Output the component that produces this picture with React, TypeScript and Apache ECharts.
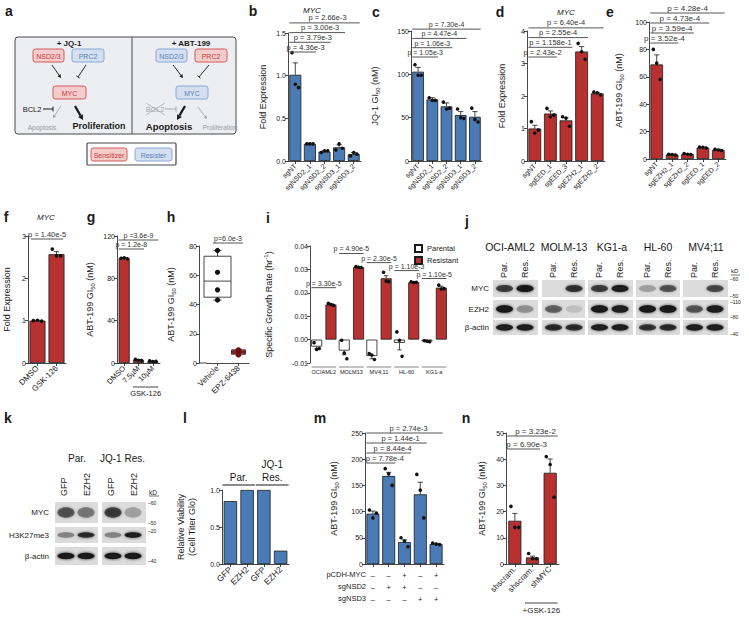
import React, { useEffect, useRef } from "react";
import * as echarts from "echarts";

const FONT = "'Liberation Sans', Arial, Helvetica, sans-serif";
const BLUE = "#4b7bb5";
const RED = "#b73131";
const INK = "#1a1a1a";

// ---------- DATA ----------
const bCats = ["sgNT", "sgNSD2_1", "sgNSD2_2", "sgNSD3_1", "sgNSD3_2"];
const bMeans = [1.01, 0.2, 0.11, 0.16, 0.08];
const bErr = [0.14, 0.01, 0.01, 0.03, 0.02];
const bDots = [[1.27, 0.9, 0.86], [0.2, 0.2, 0.2], [0.1, 0.12, 0.12], [0.13, 0.2, 0.15], [0.06, 0.1, 0.08]];
const bP = ["p = 4.36e-3", "p = 3.79e-3", "p = 3.00e-3", "p = 2.66e-3"];

const cCats = ["sgNT", "sgNSD2_1", "sgNSD2_2", "sgNSD3_1", "sgNSD3_2"];
const cMeans = [103, 71, 63, 53, 51];
const cErr = [5, 2, 4, 4, 6];
const cDots = [[111, 99, 99], [73, 70, 70], [68, 60, 61], [60, 50, 49], [61, 48, 45]];
const cP = ["p = 1.05e-3", "p = 1.06e-3", "p = 4.47e-4", "p = 7.30e-4"];

const dCats = ["sgNT", "sgEED_1", "sgEED_3", "sgEZH2_1", "sgEZH2_2"];
const dMeans = [1.0, 1.46, 1.25, 3.37, 2.08];
const dErr = [0.1, 0.08, 0.08, 0.15, 0.03];
const dDots = [[1.21, 0.86, 0.95], [1.62, 1.36, 1.41], [1.36, 1.32, 1.07], [3.62, 3.36, 3.13], [2.12, 2.1, 2.03]];
const dP = ["p = 2.43e-2", "p = 1.158e-1", "p = 2.55e-4", "p = 6.40e-4"];

const eCats = ["sgNT", "sgEZH2_1", "sgEZH2_2", "sgEED_1", "sgEED_2"];
const eMeans = [69, 3.2, 3.6, 8.3, 6.6];
const eErr = [7, 0.4, 0.4, 0.4, 0.5];
const eDots = [[80, 70, 58], [3.5, 3.3, 2.8], [4, 3.5, 3.3], [8.8, 8.5, 8], [7, 6.6, 6.2]];
const eP = ["p = 3.52e-4", "p = 3.59e-4", "p = 4.73e-4", "p = 4.28e-4"];

const fCats = ["DMSO", "GSK-126"];
const fMeans = [1.0, 2.57];
const fErr = [0.01, 0.06];
const fDots = [[1.0, 1.01, 0.99], [2.69, 2.53, 2.53]];
const fP = ["p = 1.40e-5"];

const gCats = ["DMSO", "7.5µM", "10µM"];
const gMeans = [99, 2.8, 1.6];
const gErr = [0.5, 0.4, 0.3];
const gDots = [[99, 99.5, 98.5], [3.4, 2.6, 2.4], [2, 1.4, 1.5]];
const gP = ["p = 1.2e-8", "p =3.6e-9"];

const hCats = ["Vehicle", "EPZ-6438"];
const hBox = [[43, 45, 56, 73, 77], [5, 6, 7.5, 9, 9.5]];
const hDots = [[77, 62, 50, 43], [9, 8, 6, 5.5]];
const hP = ["p=6.0e-3"];

const iCats = ["OCIAML2", "MOLM13", "MV4;11", "HL-60", "KG1-a"];
const iParMeans = [-0.003, -0.0047, -0.007, -0.0014, -0.0007];
const iParErr = [0.0009, 0.0018, 0.0012, 0.003, 0.0001];
const iParDots = [[-0.0013, -0.0042, -0.0038], [-0.0003, -0.0057, -0.0082], [-0.006, -0.0066, -0.0085], [0.0033, -0.0003, -0.0071], [-0.0005, -0.0007, -0.0009]];
const iResMeans = [0.015, 0.031, 0.0262, 0.0245, 0.0222];
const iResErr = [0.0003, 0.0002, 0.0011, 0.0002, 0.0006];
const iResDots = [[0.0155, 0.015, 0.0146], [0.0312, 0.0309, 0.0308], [0.0288, 0.025, 0.0248], [0.0247, 0.0244, 0.0245], [0.0233, 0.0216, 0.0218]];
const iP = ["p = 3.30e-5", "p = 4.90e-5", "p = 2.30e-5", "p = 1.10e-3", "p = 1.10e-5"];
const iBracketY = [0.0222, 0.0368, 0.0329, 0.0295, 0.0261];

const lCats = ["GFP", "EZH2", "GFP", "EZH2"];
const lVals = [0.85, 1.0, 1.0, 0.18];
const lGroups = ["Par.", "JQ-1\nRes."];

const mMeans = [96, 168, 42, 133, 38];
const mErr = [5, 7, 4, 23, 1.5];
const mDots = [[103, 88, 97], [182, 172, 150], [50, 44, 33], [171, 141, 88], [40, 38, 37]];
const mP = ["p = 7.78e-4", "p = 8.44e-4", "p = 1.44e-1", "p = 2.74e-3"];
const mRows = ["pCDH-MYC", "sgNSD2", "sgNSD3"];
const mSigns = [["–", "–", "+", "–", "+"], ["–", "+", "+", "–", "–"], ["–", "–", "–", "+", "+"]];

const nCats = ["shscram.", "shscram.", "shMYC"];
const nMeans = [16.5, 2.5, 34.8];
const nErr = [2.8, 0.5, 5.3];
const nDots = [[22, 14, 14], [4, 2, 2], [41, 38, 25.5]];
const nP = ["p = 6.90e-3", "p = 3.23e-2"];

const jLines = ["OCI-AML2", "MOLM-13", "KG1-a", "HL-60", "MV4;11"];
const jRows = ["MYC", "EZH2", "β-actin"];
const jMYC = [[0.7, 1.0], [0.0, 0.75], [0.7, 0.9], [0.25, 0.6], [0.0, 0.65]];
const jEZH2 = [[0.95, 0.35], [0.55, 0.12], [0.95, 0.9], [0.95, 1.0], [0.6, 0.9]];
const jActin = [[0.9, 0.9], [0.8, 0.8], [0.9, 0.9], [0.75, 0.8], [0.9, 0.9]];
const jKD = ["–60", "–50", "–110", "–80", "–40"];

const kGroups = ["Par.", "JQ-1 Res."];
const kLanes = ["GFP", "EZH2"];
const kRows = ["MYC", "H3K27me3", "β-actin"];
const kMYC = [[0.6, 0.45], [0.7, 0.25]];
const kH3 = [[0.4, 0.8], [0.4, 0.9]];
const kActin = [[0.95, 0.95], [0.95, 0.95]];
const kKD = ["–60", "–50", "–20", "–40"];

// ---------- helpers ----------
const lineSt = { color: INK, width: 0.8 };

function T(x: number, y: number, text: string, o: any = {}) {
  return {
    type: "text", x, y, rotation: o.rot || 0, silent: true, z: o.z || 10,
    style: {
      text, fill: o.fill || INK, fontSize: o.size || 8, fontFamily: FONT,
      fontWeight: o.bold ? "bold" : "normal", fontStyle: o.italic ? "italic" : "normal",
      align: o.align || "center", verticalAlign: o.va || "middle", lineHeight: o.lh,
    },
  };
}
function L(x1: number, y1: number, x2: number, y2: number, stroke = INK, lw = 1) {
  return { type: "line", silent: true, z: 10, shape: { x1, y1, x2, y2 }, style: { stroke, lineWidth: lw } };
}
function node(x: number, y: number, w: number, h: number, label: string, kind: string) {
  const c = kind === "r"
    ? { fill: "#f4cccc", stroke: "#d25a5a", text: "#c83a3a" }
    : { fill: "#d4dff0", stroke: "#86a8d8", text: "#5a80bb" };
  return [
    { type: "rect", z: 9, silent: true, shape: { x, y, width: w, height: h, r: 2.5 }, style: { fill: c.fill, stroke: c.stroke, lineWidth: 1 } },
    T(x + w / 2, y + h / 2 + 0.5, label, { size: 7, fill: c.text }),
  ];
}
function arrow(x1: number, y1: number, x2: number, y2: number, color: string, lw: number, head: number) {
  const ang = Math.atan2(y2 - y1, x2 - x1);
  const bx = x2 - head * Math.cos(ang), by = y2 - head * Math.sin(ang);
  const px = -Math.sin(ang) * head * 0.55, py = Math.cos(ang) * head * 0.55;
  return [
    L(x1, y1, bx, by, color, lw),
    { type: "polygon", z: 10, silent: true, shape: { points: [[x2, y2], [bx + px, by + py], [bx - px, by - py]] }, style: { fill: color } },
  ];
}
function inhibit(x1: number, y1: number, x2: number, y2: number, color: string, lw: number, bar: number) {
  const ang = Math.atan2(y2 - y1, x2 - x1);
  const px = -Math.sin(ang) * bar / 2, py = Math.cos(ang) * bar / 2;
  return [L(x1, y1, x2, y2, color, lw), L(x2 + px, y2 + py, x2 - px, y2 - py, color, lw)];
}
function band(cx: number, cy: number, w: number, h: number, a: number) {
  if (a <= 0.02) return null;
  const col = `rgba(18,18,18,${Math.min(1, a * 0.95)})`;
  return {
    type: "ellipse", z: 10, silent: true, shape: { cx, cy, rx: w / 2, ry: h / 2 },
    style: { fill: col, shadowBlur: 3, shadowColor: col },
  };
}

function buildOption() {
  const grid: any[] = [], xAxis: any[] = [], yAxis: any[] = [], series: any[] = [];

  function addPanel(p: any) {
    const gi = grid.length;
    grid.push({ left: p.left, top: p.top, width: p.width, height: p.height });
    xAxis.push({
      gridIndex: gi, type: "category", data: p.cats,
      axisLine: { show: p.xLine !== false, onZero: false, lineStyle: lineSt },
      axisTick: { show: p.xTick !== false, alignWithLabel: true, length: 3, lineStyle: lineSt },
      axisLabel: Object.assign(
        { show: p.showX !== false, interval: 0, rotate: p.rotate == null ? 45 : p.rotate, fontSize: p.xSize || 7, color: INK, margin: 4, fontFamily: FONT },
        p.xLabel || {}
      ),
    });
    yAxis.push({
      gridIndex: gi, type: "value", min: p.min, max: p.max, interval: p.interval, offset: p.yOffset || 0,
      name: p.yName, nameLocation: "middle", nameGap: p.nameGap,
      nameTextStyle: {
        fontSize: 9, color: INK, fontFamily: FONT, lineHeight: 11,
        rich: {
          n: { fontSize: 9, lineHeight: 12, color: INK, fontFamily: FONT },
          s: { fontSize: 6, lineHeight: 6, verticalAlign: "bottom", color: INK, fontFamily: FONT },
          p: { fontSize: 6, lineHeight: 6, verticalAlign: "top", color: INK, fontFamily: FONT },
        },
      },
      axisLine: { show: true, lineStyle: lineSt },
      axisTick: { show: true, length: 3, lineStyle: lineSt },
      splitLine: { show: false },
      axisLabel: { fontSize: 7, color: INK, margin: 2, fontFamily: FONT, formatter: p.fmt },
    });
    return gi;
  }

  function bar(gi: number, data: number[], color: string, width: any, name?: string) {
    return {
      type: "bar", name, xAxisIndex: gi, yAxisIndex: gi, data, barWidth: width, silent: true,
      itemStyle: { color, borderColor: INK, borderWidth: 0.8 },
    };
  }
  function err(gi: number, means: number[], errs: number[], dx = 0, cap = 2.6) {
    return {
      type: "custom", xAxisIndex: gi, yAxisIndex: gi, silent: true, z: 4,
      data: means.map((m, i) => [i, m, errs[i]]), encode: { x: 0, y: 1 },
      renderItem: (params: any, api: any) => {
        const i = api.value(0), m = api.value(1), e = api.value(2);
        const s = m < 0 ? -1 : 1;
        const p1 = api.coord([i, m]);
        const p2 = api.coord([i, m + s * e]);
        const x = p1[0] + dx;
        return {
          type: "group", children: [
            { type: "line", shape: { x1: x, y1: p1[1], x2: x, y2: p2[1] }, style: { stroke: INK, lineWidth: 0.8 } },
            { type: "line", shape: { x1: x - cap, y1: p2[1], x2: x + cap, y2: p2[1] }, style: { stroke: INK, lineWidth: 0.8 } },
          ],
        };
      },
    };
  }
  function dots(gi: number, arr: number[][], o: any = {}) {
    const data: any[] = [];
    arr.forEach((vals, i) => vals.forEach((v, k) => data.push([i, v, k, vals.length])));
    return {
      type: "custom", xAxisIndex: gi, yAxisIndex: gi, silent: true, z: 5,
      data, encode: { x: 0, y: 1 },
      renderItem: (params: any, api: any) => {
        const i = api.value(0), v = api.value(1), k = api.value(2), n = api.value(3);
        const bw = api.size([1, 0])[0];
        const spread = o.spread == null ? bw * 0.22 : o.spread;
        const p = api.coord([i, v]);
        const col = o.colors ? o.colors[i] : "#111";
        return {
          type: "circle", shape: { cx: p[0] + (o.dx || 0) + (k - (n - 1) / 2) * spread, cy: p[1], r: o.r || 1.8 },
          style: { fill: col },
        };
      },
    };
  }
  function brackets(gi: number, pairs: number[][], labels: string[], cfg: any) {
    return {
      type: "custom", xAxisIndex: gi, yAxisIndex: gi, silent: true, z: 6,
      data: pairs.map((p) => [p[0], cfg.yMin, p[1], p[2]]), encode: { x: 0, y: 1 },
      renderItem: (params: any, api: any) => {
        const a = api.value(0), b = api.value(2), lvl = api.value(3);
        const bw = api.size([1, 0])[0];
        const half = cfg.half != null ? cfg.half : (bw * (cfg.frac || 0.82)) / 2;
        const xa = api.coord([a, cfg.yMin])[0] - half;
        const xb = api.coord([b, cfg.yMin])[0] + half;
        let y: number;
        if (cfg.valueY) y = api.coord([0, cfg.valueY[params.dataIndex]])[1];
        else {
          const ref = cfg.anchor === "bottom" ? api.coord([0, cfg.yMin])[1] : api.coord([0, cfg.yMax])[1];
          y = ref + cfg.base - lvl * (cfg.step || 0);
        }
        return {
          type: "group", children: [
            { type: "line", shape: { x1: xa, y1: y, x2: xb, y2: y }, style: { stroke: cfg.lineColor || "#555", lineWidth: cfg.lw || 1 } },
            {
              type: "text", x: (xa + xb) / 2 + (cfg.textDx || 0), y: y + (cfg.textDy != null ? cfg.textDy : -1),
              style: {
                text: labels[params.dataIndex], fill: cfg.textColor || "#333", fontSize: cfg.fontSize || 7.5,
                fontFamily: FONT, align: "center", verticalAlign: cfg.va || "bottom", lineHeight: cfg.lineHeight,
              },
            },
          ],
        };
      },
    };
  }
  const fromFirst = (n: number) => Array.from({ length: n }, (_, k) => [0, k + 1, k]);

  // ---- b ----
  const gb = addPanel({ left: 288, top: 33, width: 73, height: 128, cats: bCats, min: 0, max: 1.5, interval: 0.5, fmt: (v: number) => v.toFixed(1), yName: "Fold Expression", nameGap: 20 });
  series.push(bar(gb, bMeans, BLUE, "82%"), err(gb, bMeans, bErr), dots(gb, bDots),
    brackets(gb, fromFirst(4), bP, { anchor: "top", base: 19, step: 9.7, yMin: 0, yMax: 1.5, textDx: 3 }));
  // ---- c ----
  const gc = addPanel({ left: 411, top: 31, width: 71, height: 130, cats: cCats, min: 0, max: 150, interval: 50, yName: "{n|JQ-1 GI}{s|50}{n| (nM)}", nameGap: 30 });
  series.push(bar(gc, cMeans, BLUE, "82%"), err(gc, cMeans, cErr), dots(gc, cDots),
    brackets(gc, fromFirst(4), cP, { anchor: "top", base: 26, step: 9.3, yMin: 0, yMax: 150, fontSize: 7 }));
  // ---- d ----
  const gd = addPanel({ left: 527, top: 31, width: 78, height: 130, cats: dCats, min: 0, max: 4, interval: 1, yName: "Fold Expression", nameGap: 20 });
  series.push(bar(gd, dMeans, RED, "82%"), err(gd, dMeans, dErr), dots(gd, dDots),
    brackets(gd, fromFirst(4), dP, { anchor: "top", base: 26, step: 9.7, yMin: 0, yMax: 4 }));
  // ---- e ----
  const ge = addPanel({ left: 649, top: 22, width: 77, height: 137, cats: eCats, min: 0, max: 100, interval: 20, yName: "{n|ABT-199 GI}{s|50}{n| (nM)}", nameGap: 24 });
  series.push(bar(ge, eMeans, RED, "82%"), err(ge, eMeans, eErr), dots(ge, eDots),
    brackets(ge, fromFirst(4), eP, { anchor: "top", base: 21, step: 10, yMin: 0, yMax: 100, fontSize: 8 }));
  // ---- f ----
  const gf = addPanel({ left: 28, top: 236, width: 38, height: 127, cats: fCats, min: 0, max: 3, interval: 1, yName: "Fold Expression", nameGap: 16, xSize: 8 });
  series.push(bar(gf, fMeans, RED, "84%"), err(gf, fMeans, fErr), dots(gf, fDots),
    brackets(gf, [[0, 1, 0]], fP, { anchor: "top", base: 3, yMin: 0, yMax: 3, frac: 0.7 }));
  // ---- g ----
  const gg = addPanel({ left: 117, top: 236, width: 43, height: 127, cats: gCats, min: 0, max: 120, interval: 40, yName: "{n|ABT-199 GI}{s|50}{n| (nM)}", nameGap: 21, xSize: 7.5 });
  series.push(bar(gg, gMeans, RED, "77%"), err(gg, gMeans, gErr), dots(gg, gDots),
    brackets(gg, [[0, 1, 0], [0, 2, 1]], gP, { anchor: "top", base: 13, step: 9, yMin: 0, yMax: 120, frac: 0.77, fontSize: 7 }),
    brackets(gg, [[1, 2, 0]], ["GSK-126"], { anchor: "bottom", base: 24, yMin: 0, yMax: 120, frac: 0.77, va: "top", textDy: 2, fontSize: 7.5, textColor: INK, lineColor: INK, lw: 0.8 }));
  // ---- h ----
  const gh = addPanel({ left: 207, top: 246, width: 42, height: 117, yOffset: 8, cats: hCats, min: 0, max: 80, interval: 20, yName: "{n|ABT-199 GI}{s|50}{n| (nM)}", nameGap: 22, xSize: 8 });
  series.push({
    type: "custom", xAxisIndex: gh, yAxisIndex: gh, silent: true, z: 3,
    data: hBox.map((b, i) => [i, ...b]), encode: { x: 0, y: [1, 2, 3, 4, 5] },
    renderItem: (params: any, api: any) => {
      const i = api.value(0);
      const v = [1, 2, 3, 4, 5].map((d) => api.value(d));
      const cx = api.coord([i, v[2]])[0];
      const yy = (val: number) => api.coord([i, val])[1];
      const w = [27, 14][i], cap = [4, 3][i], fill = ["#fff", RED][i];
      const ls = { stroke: INK, lineWidth: 0.8 };
      return {
        type: "group", children: [
          { type: "line", shape: { x1: cx, y1: yy(v[0]), x2: cx, y2: yy(v[1]) }, style: ls },
          { type: "line", shape: { x1: cx, y1: yy(v[3]), x2: cx, y2: yy(v[4]) }, style: ls },
          { type: "line", shape: { x1: cx - cap, y1: yy(v[0]), x2: cx + cap, y2: yy(v[0]) }, style: ls },
          { type: "line", shape: { x1: cx - cap, y1: yy(v[4]), x2: cx + cap, y2: yy(v[4]) }, style: ls },
          { type: "rect", shape: { x: cx - w / 2, y: yy(v[3]), width: w, height: yy(v[1]) - yy(v[3]) }, style: { fill, stroke: INK, lineWidth: 0.8 } },
          { type: "line", shape: { x1: cx - w / 2, y1: yy(v[2]), x2: cx + w / 2, y2: yy(v[2]) }, style: ls },
        ],
      };
    },
  });
  series.push(dots(gh, hDots, { spread: 0, r: 2.6, colors: ["#111", "#6e0f0f"] }),
    brackets(gh, [[0, 1, 0]], hP, { anchor: "top", base: -3, yMin: 0, yMax: 80, half: 4.5, fontSize: 7 }));
  // ---- i ----
  const gi = addPanel({
    left: 310, top: 246, width: 138, height: 117, cats: iCats, min: -0.01, max: 0.04, interval: 0.01,
    fmt: (v: number) => v.toFixed(2), yName: "{n|Specific Growth Rate (hr}{p|-1}{n|)}", nameGap: 35,
    rotate: 0, xLine: false, xTick: false, xSize: 5.6, xLabel: { margin: 6 },
  });
  series.push(
    { ...bar(gi, iParMeans, "#fff", 11, "Parental"), barGap: "30%" },
    { ...bar(gi, iResMeans, RED, 11, "Resistant"), barGap: "30%" },
    err(gi, iParMeans, iParErr, -7.15, 2.2), err(gi, iResMeans, iResErr, 7.15, 2.2),
    dots(gi, iParDots, { dx: -7.15, spread: 2.6 }), dots(gi, iResDots, { dx: 7.15, spread: 2.6 }),
    brackets(gi, iCats.map((_, k) => [k, k, 0]), iP, { valueY: iBracketY, yMin: -0.01, yMax: 0.04, half: 12.3, fontSize: 7 }),
    brackets(gi, iCats.map((_, k) => [k, k, 0]), iCats.map(() => ""), { anchor: "bottom", base: 4, yMin: -0.01, yMax: 0.04, half: 12.3, lineColor: "#666", lw: 0.8 })
  );
  // ---- l ----
  const gl = addPanel({ left: 222, top: 490, width: 67, height: 74, cats: lCats, min: 0, max: 1, interval: 0.5, fmt: (v: number) => v.toFixed(1), yName: "Relative Viability\n(Cell Titer Glo)", nameGap: 25, xSize: 8.5 });
  series.push(bar(gl, lVals, BLUE, "80%"),
    brackets(gl, [[0, 1, 0], [2, 3, 0]], lGroups, { anchor: "top", base: -5, yMin: 0, yMax: 1, frac: 0.95, fontSize: 10, textColor: INK, lineColor: INK, lw: 1, textDy: -1, lineHeight: 13 }));
  // ---- m ----
  const mCols = mMeans.map((_, i) => mSigns.map((r) => r[i]).join("\n"));
  const gm = addPanel({ left: 365, top: 433, width: 79, height: 131, cats: mCols, min: 0, max: 250, interval: 50, yName: "{n|ABT-199 GI}{s|50}{n| (nM)}", nameGap: 25, rotate: 0, xSize: 7.5, xLabel: { lineHeight: 12, margin: 5 } });
  series.push(bar(gm, mMeans, BLUE, "82%"), err(gm, mMeans, mErr), dots(gm, mDots),
    brackets(gm, fromFirst(4), mP, { anchor: "top", base: 30, step: 10, yMin: 0, yMax: 250, textDx: 4 }));
  // ---- n ----
  const gn = addPanel({ left: 506, top: 433, width: 53, height: 131, cats: nCats, min: 0, max: 50, interval: 10, yName: "{n|ABT-199 GI}{s|50}{n| (nM)}", nameGap: 18, xSize: 8 });
  series.push(bar(gn, nMeans, RED, "74%"), err(gn, nMeans, nErr), dots(gn, nDots),
    brackets(gn, [[0, 1, 0], [0, 2, 1]], nP, { anchor: "top", base: 16, step: 13, yMin: 0, yMax: 50, frac: 0.85, fontSize: 8, textDx: 3 }),
    brackets(gn, [[1, 2, 0]], ["+GSK-126"], { anchor: "bottom", base: 39, yMin: 0, yMax: 50, frac: 0.85, va: "top", textDy: 3, fontSize: 8, textColor: INK, lineColor: INK, lw: 0.8 }));

  // ---------- graphic ----------
  const els: any[] = [];
  // panel a
  els.push({ type: "rect", z: 8, silent: true, shape: { x: 15, y: 37, width: 221, height: 97, r: 3 }, style: { fill: "#eceef2", stroke: "#4a4a4a", lineWidth: 1 } });
  els.push(L(132, 37, 132, 134, "#4a4a4a", 1));
  els.push(T(69, 43.5, "+ JQ-1", { bold: true, size: 8 }), T(191, 43.5, "+ ABT-199", { bold: true, size: 8 }));
  els.push(...node(33, 49, 31, 13, "NSD2/3", "r"), ...node(72, 49, 32, 13, "PRC2", "b"), ...node(53, 86, 33, 13, "MYC", "r"));
  els.push(...arrow(52, 65, 61, 78, INK, 0.9, 3.5), ...inhibit(86, 65, 78, 77, INK, 0.9, 4));
  els.push(T(32, 109, "BCL2", { size: 7.5 }), ...inhibit(43, 109, 53, 109, INK, 1, 5));
  els.push(...arrow(61, 106, 53, 118, "#9a9a9a", 0.8, 3), T(42, 127, "Apoptosis", { size: 6.5, fill: "#9a9a9a" }));
  els.push(...arrow(75, 106, 83, 120, INK, 2.2, 5), T(99, 126, "Proliferation", { size: 9, bold: true }));
  els.push(...node(156, 49, 31, 13, "NSD2/3", "b"), ...node(195, 49, 32, 13, "PRC2", "r"), ...node(176, 86, 32, 13, "MYC", "b"));
  els.push(...arrow(173, 65, 183, 78, INK, 0.9, 3.5), ...inhibit(209, 65, 199, 77, INK, 0.9, 4));
  els.push(T(155, 109, "BCL2", { size: 7.5, fill: "#a8a8a8" }), ...inhibit(165, 109, 176, 109, "#a8a8a8", 1, 5));
  els.push(L(146, 103, 165, 115, "#a8a8a8", 0.8), L(146, 115, 165, 103, "#a8a8a8", 0.8));
  els.push(...arrow(185, 106, 177, 120, INK, 2.2, 5), T(169, 126, "Apoptosis", { size: 9.5, bold: true }));
  els.push(...arrow(198, 107, 207, 119, "#9a9a9a", 0.8, 3), T(220, 127, "Proliferation", { size: 6.5, fill: "#9a9a9a" }));
  els.push({ type: "rect", z: 8, silent: true, shape: { x: 87, y: 143, width: 89, height: 22, r: 1 }, style: { fill: "#fff", stroke: "#4a4a4a", lineWidth: 1.2 } });
  els.push(...node(91, 148, 36, 13, "Sensitizer", "r"), ...node(135, 148, 37, 13, "Resister", "b"));

  // panel letters
  const letters: [string, number, number][] = [["a", 9, 11], ["b", 253, 11], ["c", 376, 12], ["d", 500, 12], ["e", 610, 12], ["f", 6, 217], ["g", 91, 217], ["h", 171, 217], ["i", 268, 218], ["j", 467, 221], ["k", 8, 418], ["l", 185, 418], ["m", 320, 418], ["n", 466, 418]];
  letters.forEach(([s, x, y]) => els.push(T(x, y, s, { size: 14, bold: true })));
  els.push(T(312, 10, "MYC", { size: 8, italic: true }), T(566, 12, "MYC", { size: 8, italic: true }), T(46, 217, "MYC", { size: 8, italic: true }));

  // h: x-axis line continuation to the y axis
  els.push(L(199, 363, 207, 363, INK, 0.8));

  // panel j blots
  const jPX = [493, 542, 588, 636, 683], jPW = [45, 43, 45, 44, 45];
  const jRY = [280, 300, 320], jRH = [17, 18, 15];
  const jNameX = [510, 564, 612, 658, 706];
  const jData = [jMYC, jEZH2, jActin];
  jLines.forEach((nm, ci) => {
    els.push(T(jNameX[ci], 247, nm, { size: 10.5 }));
    ["Par.", "Res."].forEach((lab, li) => els.push(T(jPX[ci] + [11, 32][li], 278, lab, { size: 9, rot: Math.PI / 2, align: "left" })));
    jRY.forEach((ry, ri) => {
      els.push({ type: "rect", z: 9, silent: true, shape: { x: jPX[ci], y: ry, width: jPW[ci], height: jRH[ri] }, style: { fill: "#dcdcdc" } });
      [0, 1].forEach((li) => {
        const el = band(jPX[ci] + [11.5, 32][li], ry + jRH[ri] / 2, 17, jRH[ri] * 0.42, jData[ri][ci][li]);
        if (el) els.push(el);
      });
    });
  });
  jRows.forEach((r, ri) => els.push(T(489, jRY[ri] + jRH[ri] / 2, r, { size: 8, align: "right" })));
  els.push(T(731, 271, "kD", { size: 6, align: "left" }), L(731, 275, 740, 275, INK, 0.6));
  [279, 296, 302, 317, 334].forEach((y, k) => els.push(T(730, y, jKD[k], { size: 5, align: "left" })));

  // panel k blots
  const kPX = [55, 102], kPW = [43, 44], kRY = [502, 527, 547], kRH = [21, 16, 18];
  const kData = [kMYC, kH3, kActin];
  kGroups.forEach((g, gi2) => {
    els.push(T([77, 122.5][gi2], 458, g, { size: 10 }));
    kLanes.forEach((ln, li) => els.push(T(kPX[gi2] + [9, 32][li], 496, ln, { size: 9, rot: Math.PI / 2, align: "left" })));
    kRY.forEach((ry, ri) => {
      els.push({ type: "rect", z: 9, silent: true, shape: { x: kPX[gi2], y: ry, width: kPW[gi2], height: kRH[ri] }, style: { fill: "#dcdcdc" } });
      [0, 1].forEach((li) => {
        const el = band(kPX[gi2] + [11, 31][li], ry + kRH[ri] / 2, 17, kRH[ri] * (ri === 0 ? 0.5 : 0.35), kData[ri][gi2][li]);
        if (el) els.push(el);
      });
    });
  });
  kRows.forEach((r, ri) => els.push(T(49, kRY[ri] + kRH[ri] / 2, r, { size: 8, align: "right" })));
  els.push(T(149, 492, "kD", { size: 6.5, align: "left" }), L(149, 496, 159, 496, INK, 0.6));
  [503, 523, 531, 561].forEach((y, k) => els.push(T(148, y, kKD[k], { size: 5, align: "left" })));

  // panel m row headers
  mRows.forEach((r, k) => els.push(T(366, 574 + k * 12, r, { size: 7.5, align: "right" })));

  return {
    animation: false,
    backgroundColor: "#fff",
    textStyle: { fontFamily: FONT },
    grid, xAxis, yAxis, series,
    legend: {
      data: ["Parental", "Resistant"], left: 409, top: 239, orient: "vertical", itemWidth: 7, itemHeight: 7, itemGap: 3,
      icon: "rect", selectedMode: false, textStyle: { fontSize: 7.5, color: INK, fontFamily: FONT },
    },
    graphic: { elements: els },
  };
}

export default function App() {
  const ref = useRef<HTMLDivElement>(null);
  useEffect(() => {
    if (!ref.current) return;
    const chart = echarts.init(ref.current, null, { renderer: "svg" });
    chart.setOption(buildOption() as any);
    return () => chart.dispose();
  }, []);
  return <div ref={ref} style={{ position: "fixed", left: 0, top: 0, width: 749, height: 619, background: "#fff" }} />;
}
